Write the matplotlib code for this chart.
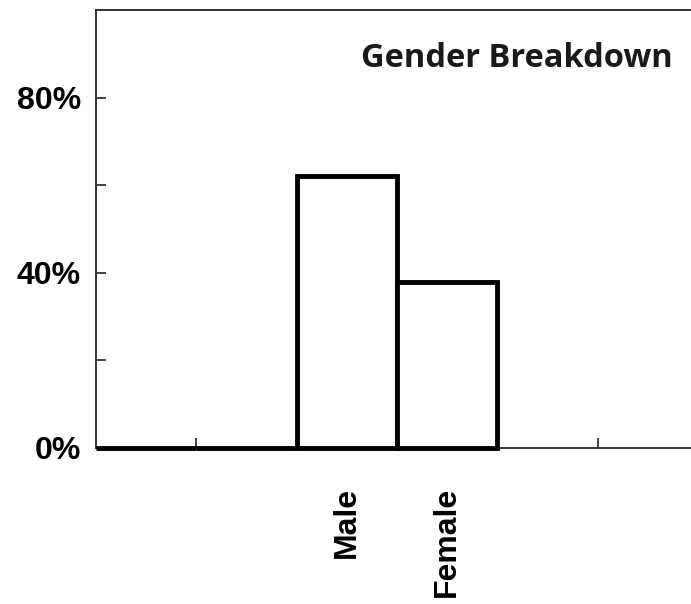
import matplotlib
matplotlib.use('Agg')
import matplotlib.pyplot as plt
from matplotlib import font_manager
from matplotlib.ticker import FixedLocator, FuncFormatter

# data
categories = ['', '', 'Male', 'Female']
shares = [0, 0, 62, 38]
title = 'Gender Breakdown'

# pick the regular-width Liberation Sans Bold file (the name alone may give Narrow)
bold_file = None
for f in font_manager.findSystemFonts():
    if f.endswith('LiberationSans-Bold.ttf'):
        bold_file = f
        break
if bold_file:
    tick_font = font_manager.FontProperties(fname=bold_file, size=23)
else:
    tick_font = font_manager.FontProperties(family='DejaVu Sans', weight='bold', size=20)

fig = plt.figure(figsize=(6.91, 6.04), dpi=100)
ax = fig.add_axes([0.139, 0.2583, 0.8595, 0.7251])

pos = list(range(len(categories)))
bars = ax.bar(pos, shares, width=1.0, align='edge', facecolor='white',
              edgecolor='black', linewidth=3.5, zorder=3)
for b in bars:
    b.set_clip_on(False)

ax.set_xlim(0, 5.92)
ax.set_ylim(0, 100)

# x ticks: labels at bar centres, small tick marks at 1 and 5
ax.set_xticks([p + 0.5 for p in pos[2:]])
ax.set_xticklabels(categories[2:], rotation=90, fontproperties=tick_font)
ax.xaxis.set_minor_locator(FixedLocator([1, 5]))
ax.tick_params(axis='x', which='major', length=0, pad=28)
ax.tick_params(axis='x', which='minor', direction='in', length=7,
               width=1.3, color='#333333')

ax.yaxis.set_major_locator(FixedLocator([0, 40, 80]))
ax.yaxis.set_minor_locator(FixedLocator([20, 60]))
ax.yaxis.set_major_formatter(FuncFormatter(lambda v, p: f'{v:.0f}%'))
ax.tick_params(axis='y', which='both', direction='in', length=7,
               width=1.3, color='#333333', pad=11)
for lbl in ax.get_yticklabels():
    lbl.set_fontproperties(tick_font)

for side in ['top', 'left', 'bottom']:
    ax.spines[side].set_linewidth(1.4)
    ax.spines[side].set_color('#333333')
ax.spines['right'].set_visible(False)

ax.text(0.971, 0.889, title, transform=ax.transAxes, ha='right',
        va='center', fontsize=23.5, fontweight='bold', family='Open Sans',
        color='#1a1a1a')

fig.savefig('out.png', dpi=100)
